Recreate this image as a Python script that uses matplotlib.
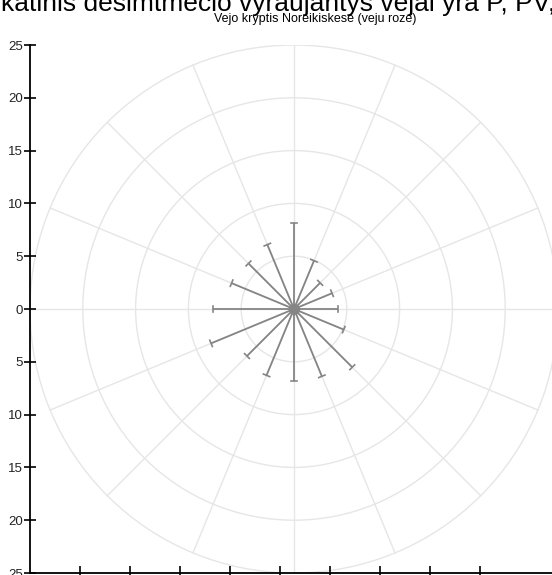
import numpy as np
import matplotlib
matplotlib.use("Agg")
import matplotlib.pyplot as plt
from matplotlib.patches import Circle

# ---- data ----
directions = ["N", "NNE", "NE", "ENE", "E", "ESE", "SE", "SSE",
              "S", "SSW", "SW", "WSW", "W", "WNW", "NW", "NNW"]
frequency = [8.1, 4.95, 3.5, 3.9, 4.2, 5.1, 7.8, 6.9,
             6.8, 6.8, 6.3, 8.5, 7.7, 6.4, 6.1, 6.6]
ring_values = [5, 10, 15, 20, 25]
y_tick_values = [25, 20, 15, 10, 5, 0, -5, -10, -15, -20, -25]
y_tick_labels = ["25", "20", "15", "10", "5", "0", "5", "10", "15", "20", "25"]
title_text = "katinis desimtmecio vyraujantys vejai yra P, PV, V"
subtitle_text = "Vejo kryptis Noreikiskese (veju roze)"

plt.rcParams['font.family'] = ['Liberation Sans', 'DejaVu Sans']

W, H = 552, 575
fig = plt.figure(figsize=(W / 100, H / 100), dpi=100)
ppu = 528 / 50.0
left_px, bottom_px = 30, H - 573
width_px = 50 * ppu
ax = fig.add_axes([left_px / W, bottom_px / H, width_px / W, 528 / H])
ax.set_xlim(-25, 25)
ax.set_ylim(-25, 25)

grid_col = "#e6e6e6"
ray_col = "#858585"

for rv in ring_values:
    ax.add_patch(Circle((0, 0), rv, fill=False, edgecolor=grid_col, lw=1.0, zorder=1))
n = len(directions)
angles = np.deg2rad(np.arange(n) * 360.0 / n)
rmax = ring_values[-1]
for a in angles:
    ax.plot([0, rmax * np.sin(a)], [0, rmax * np.cos(a)], color=grid_col, lw=1.0, zorder=1)

cap = 0.32
for a, r in zip(angles, frequency):
    ex, ey = r * np.sin(a), r * np.cos(a)
    ax.plot([0, ex], [0, ey], color=ray_col, lw=1.3, zorder=3, solid_capstyle='butt')
    px, py = np.cos(a), -np.sin(a)
    ax.plot([ex - cap * px, ex + cap * px], [ey - cap * py, ey + cap * py],
            color=ray_col, lw=1.2, zorder=3)
ax.plot([0], [0], 'o', ms=7, color=ray_col, zorder=4)

for s in ['top', 'right']:
    ax.spines[s].set_visible(False)
for s in ['left', 'bottom']:
    ax.spines[s].set_linewidth(1.3)
    ax.spines[s].set_color('black')
ax.set_yticks(y_tick_values)
ax.set_yticklabels(y_tick_labels)
step = 50 / ppu
ax.set_xticks([-25 + step * k for k in range(1, 10)])
ax.set_xticklabels([])
ax.tick_params(axis='y', direction='inout', length=8, width=1.2, pad=1, labelsize=9.5, colors='black')
ax.tick_params(axis='x', direction='inout', length=10, width=1.2, colors='black')
for lab in ax.get_yticklabels():
    lab.set_color('#222222')

fig.text(1 / W, 1 - 11 / H, title_text, fontsize=19, ha='left', va='baseline', color='black')
fig.text(315 / W, 1 - 19 / H, subtitle_text, fontsize=9, ha='center', va='center', color='black')

fig.savefig("out.png", dpi=100)
